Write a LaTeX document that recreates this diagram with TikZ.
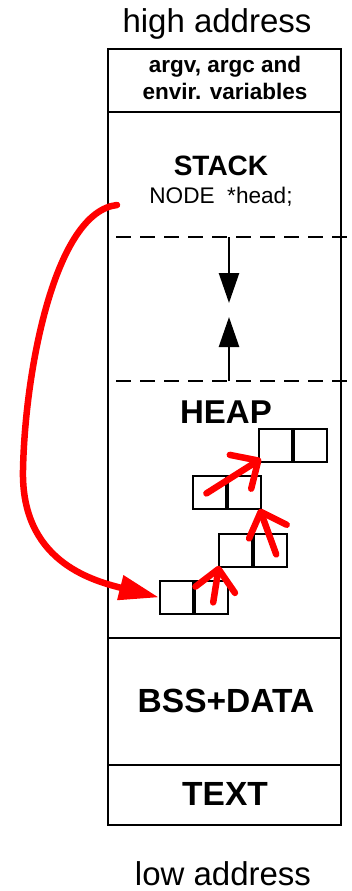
\documentclass[tikz,border=0pt]{standalone}
\usepackage{fontspec}
\setmainfont{Liberation Sans}
\usetikzlibrary{arrows.meta,calc}
\tikzset{
  lbl/.style={inner sep=0pt, anchor=base},
  cell/.style={draw, line width=1.8pt, minimum width=33pt, minimum height=33pt, inner sep=0pt, anchor=north west},
  seg/.style={line width=2.8pt},
  dsh/.style={line width=2pt, dash pattern=on 15pt off 9pt},
  growarr/.style={line width=2.5pt, -{Triangle[length=30pt,width=20pt]}},
  linkarr/.style={red, line width=6.5pt, line cap=round, -{Straight Barb[length=21pt,width=40pt,round]}},
  ptrarr/.style={red, line width=6.5pt, line cap=round, -{Triangle[length=40pt,width=24pt]}},
}
\begin{document}
\begin{tikzpicture}[x=1pt,y=-1pt]
\useasboundingbox (0,0) rectangle (352,891);
% texts
\node[lbl, font=\fontsize{33}{36}\selectfont] (hi) at (217,33) {high address};
\node[lbl, font=\fontsize{33}{36}\selectfont] (lo) at (223,885) {low address};
\node[lbl, font=\fontsize{22.5}{26}\selectfont\bfseries] (argv1) at (225,73) {argv, argc and};
\node[lbl, font=\fontsize{22.5}{26}\selectfont\bfseries] (argv2) at (225,99) {envir. variables};
\node[lbl, font=\fontsize{28}{32}\selectfont\bfseries] (stack) at (221,175) {STACK};
\node[lbl, font=\fontsize{22.6}{26}\selectfont] (head) at (221,203) {NODE\ \ *head;};
\node[lbl, font=\fontsize{33}{36}\selectfont\bfseries] (heap) at (226,423) {HEAP};
\node[lbl, font=\fontsize{33.5}{36}\selectfont\bfseries] (bss) at (226,712) {BSS+DATA};
\node[lbl, font=\fontsize{33.5}{36}\selectfont\bfseries] (txt) at (225,805) {TEXT};
% main column
\draw[seg] (108,49) rectangle (341,825);
\draw[seg] (108,112) -- (341,112);
\draw[seg] (108,638) -- (341,638);
\draw[seg] (108,765) -- (341,765);
% dashed limits
\coordinate (d1l) at (116,237); \coordinate (d1r) at (352,237);
\coordinate (d2l) at (116,381); \coordinate (d2r) at (352,381);
\draw[dsh] (d1l) -- (d1r);
\draw[dsh] (d2l) -- (d2r);
% growth arrows
\coordinate (s1) at (229,237); \coordinate (t1) at (229,303);
\coordinate (s2) at (229,381); \coordinate (t2) at (229,317);
\draw[growarr] (s1) -- (t1);
\draw[growarr] (s2) -- (t2);
% heap cells
\node[cell] (A1) at (159,580) {}; \node[cell] (A2) at (A1.north east) [anchor=north west] {};
\node[cell] (B1) at (218,533) {}; \node[cell] (B2) at (B1.north east) [anchor=north west] {};
\node[cell] (C1) at (192,475) {}; \node[cell] (C2) at (C1.north east) [anchor=north west] {};
\node[cell] (D1) at (258,428) {}; \node[cell] (D2) at (D1.north east) [anchor=north west] {};
% links
\draw[linkarr] ($(A2.center)+(2,5)$) -- ($(B1.south west)+(1,-2)$);
\draw[linkarr] ($(B2.center)+(6,4)$) -- ($(C2.south east)+(-2,-1)$);
\draw[linkarr] ($(C1.center)+(-3,1)$) -- ($(D1.south west)+(3,-4)$);
% head pointer
\coordinate (hs) at (117,205);
\coordinate (hm) at (23,470);
\draw[ptrarr] (hs) .. controls (55,212) and (25,370) .. (hm) .. controls (21,560) and (90,580) .. (A1.west);
\end{tikzpicture}
\end{document}
